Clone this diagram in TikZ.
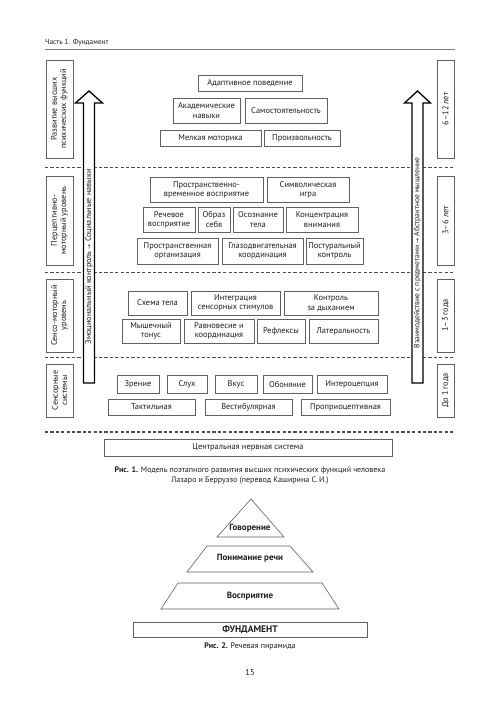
\documentclass[tikz,border=0pt]{standalone}
\usepackage{fontspec}
\setmainfont{PT Sans}
\newfontfamily\arrfont{DejaVu Sans}
\definecolor{boxgray}{gray}{0.38}
\definecolor{txt}{gray}{0.12}
\definecolor{dashc}{gray}{0.3}
\newcommand\bx[6]{\node[bx, minimum width={(#4)-(#2)}, minimum height={(#5)-(#3)}] (#1) at ({((#2)+(#4))/2},{((#3)+(#5))/2}) {#6};}
\newcommand\sidebox[6]{\node[bx, sidefont, rotate=90, minimum width={(#5)-(#3)}, minimum height={(#4)-(#2)}] (#1) at ({((#2)+(#4))/2},{((#3)+(#5))/2}) {#6};}
\begin{document}
\begin{tikzpicture}[x=1pt,y=-1pt,
  bx/.style={draw=boxgray, line width=0.6pt, inner sep=0pt, outer sep=0pt, align=center, text=txt, font=\fontsize{8.4}{9.2}\selectfont},
  sidefont/.style={font=\fontsize{8.3}{9.2}\selectfont},
  dashsep/.style={draw=dashc, line width=1.1pt, dash pattern=on 3.2pt off 2.2pt},
  bigarrow/.style={draw=black, line width=1.3pt, fill=white, line join=miter},
  arrtxt/.style={rotate=90, text=txt, font=\fontsize{8.2}{9}\selectfont, inner sep=0pt},
  pyr/.style={draw=boxgray, line width=0.6pt},
  pyrtxt/.style={text=txt, font=\fontsize{9}{10}\selectfont\bfseries, inner sep=0pt},
  captxt/.style={text=txt, font=\fontsize{8}{10}\selectfont, inner sep=0pt}]
\useasboundingbox (0,0) rectangle (500,716);
\fill[white] (0,0) rectangle (500,716);

% header
\node[captxt, font=\fontsize{7.3}{9}\selectfont, anchor=west] (hdr) at (45,42.5) {Часть 1. Фундамент};
\draw[gray, line width=0.9pt] (45,49.5) -- (455,49.5);

% dashed separators
\foreach \yy in {167.5,272.5,357.5,432}
  \draw[dashsep] (45,\yy) -- (455,\yy);

% side labels
\sidebox{l1}{46}{60}{73}{158}{Развитие высших\\психических функций}
\sidebox{l2}{46}{176}{73}{265}{Перцептивно-\\моторный уровень}
\sidebox{l3}{46}{279}{73}{352}{Сенсо-моторный\\уровень}
\sidebox{l4}{46}{364}{73}{417}{Сенсорные\\системы}
\sidebox{r1}{437}{60}{454}{158}{6–12 лет}
\sidebox{r2}{437}{176}{454}{265}{3–6 лет}
\sidebox{r3}{437}{279}{454}{352}{1–3 года}
\sidebox{r4}{437}{364}{454}{417}{До 1 года}

% big arrows
\draw[bigarrow] (83.5,383) -- (83.5,103) -- (75.5,103) -- (89,91) -- (102.5,103) -- (94.5,103) -- (94.5,383) -- cycle;
\node[arrtxt] (latxt) at (89,257) {Эмоциональный контроль {\arrfont\fontsize{6}{7}\selectfont →} Социальные навыки};
\draw[bigarrow] (412,383) -- (412,103) -- (404.5,103) -- (417.5,91) -- (430.5,103) -- (423,103) -- (423,383) -- cycle;
\node[arrtxt, font=\fontsize{7.6}{9}\selectfont] (ratxt) at (417.5,253) {Взаимодействие с предметами {\arrfont\fontsize{6}{7}\selectfont →} Абстрактное мышление};

% level 1
\bx{adapt}{198}{75}{302}{91}{Адаптивное поведение}
\bx{acad}{173}{98}{240}{123}{Академические\\навыки}
\bx{samo}{245}{98}{327}{123}{Самостоятельность}
\bx{melk}{160}{130}{261}{146}{Мелкая моторика}
\bx{proizv}{264}{130}{340}{146}{Произвольность}

% level 2
\bx{prvr}{150}{177}{263}{202}{Пространственно-\\временное восприятие}
\bx{simv}{267}{177}{349}{202}{Символическая\\игра}
\bx{rech}{143}{207}{195}{232}{Речевое\\восприятие}
\bx{obraz}{198}{207}{230}{232}{Образ\\себя}
\bx{osozn}{233}{207}{283}{232}{Осознание\\тела}
\bx{konc}{286}{207}{358}{232}{Концентрация\\внимания}
\bx{prorg}{137}{238}{218}{264}{Пространственная\\организация}
\bx{glaz}{222}{238}{303}{264}{Глазодвигательная\\координация}
\bx{post}{306}{238}{363}{264}{Постуральный\\контроль}

% level 3
\bx{shema}{128}{291}{187}{315}{Схема тела}
\bx{integr}{191}{291}{280}{315}{Интеграция\\сенсорных стимулов}
\bx{dyh}{284}{291}{378}{315}{Контроль\\за дыханием}
\bx{tonus}{122}{319}{180}{343}{Мышечный\\тонус}
\bx{ravn}{184}{319}{254}{343}{Равновесие и\\координация}
\bx{refl}{257}{319}{305}{343}{Рефлексы}
\bx{lat}{309}{319}{378}{343}{Латеральность}

% level 4
\bx{zren}{117}{375}{159}{393}{Зрение}
\bx{sluh}{167}{375}{207}{393}{Слух}
\bx{vkus}{215}{375}{257}{393}{Вкус}
\bx{obon}{263}{375}{312}{393}{Обоняние}
\bx{inter}{317}{375}{387}{393}{Интероцепция}
\bx{takt}{108}{399}{195}{415}{Тактильная}
\bx{vest}{205}{399}{292}{415}{Вестибулярная}
\bx{propr}{301}{399}{390}{415}{Проприоцептивная}

% CNS
\bx{cns}{104}{439}{392}{456}{Центральная нервная система}

% caption 1
\node[captxt, align=center] (cap1) at (250,476) {\textbf{Рис. 1.} Модель поэтапного развития высших психических функций человека\\Лазаро и Берруэзо (перевод Каширина С.\,И.)};

% speech pyramid
\draw[pyr] (251,499) -- (284,537) -- (217,537) -- cycle;
\node[pyrtxt] (govor) at (250,528) {Говорение};
\draw[pyr] (207,546) -- (290,546) -- (313,572) -- (187,572) -- cycle;
\node[pyrtxt] (ponim) at (250,558.5) {Понимание речи};
\draw[pyr] (178,583) -- (322,583) -- (339,609) -- (161,609) -- cycle;
\node[pyrtxt] (vospr) at (250,596.5) {Восприятие};
\node[bx, minimum width=234, minimum height=15, font=\fontsize{9.5}{10}\selectfont\bfseries] (fund) at (250,629.5) {ФУНДАМЕНТ};
\node[captxt] (cap2) at (250,646) {\textbf{Рис. 2.} Речевая пирамида};
\node[captxt, font=\fontsize{8.5}{10}\selectfont] (pnum) at (250,673) {15};
\end{tikzpicture}
\end{document}
